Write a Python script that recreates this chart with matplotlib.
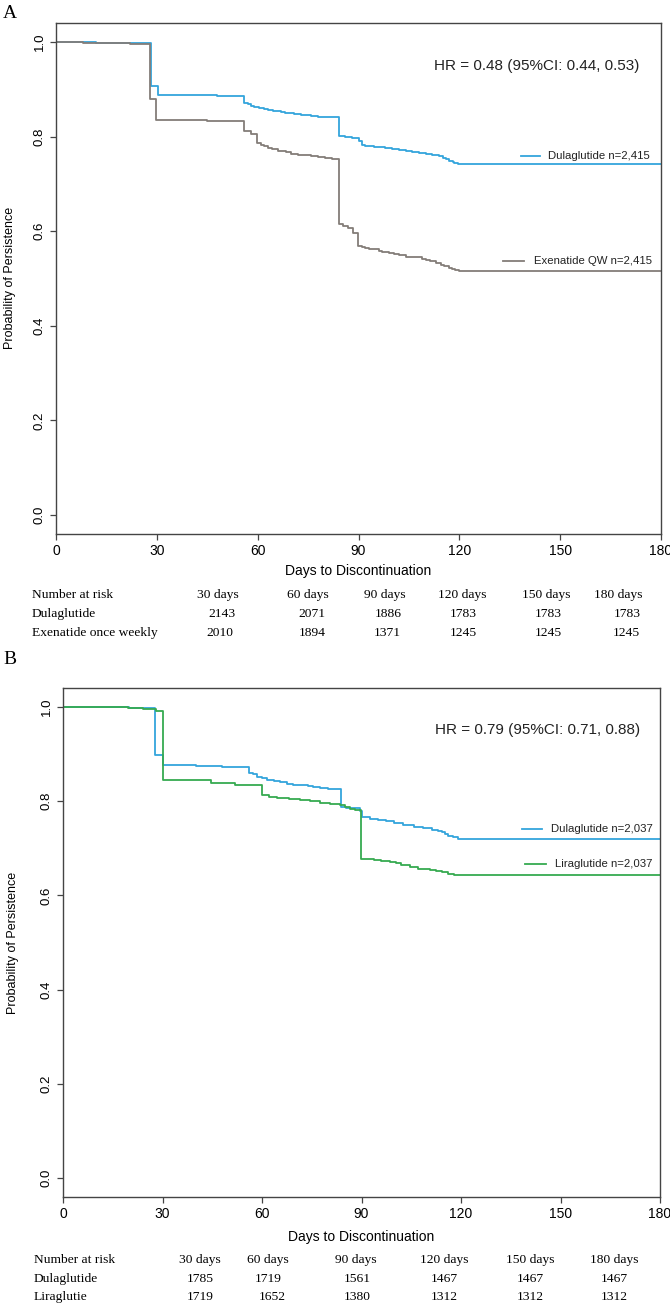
import matplotlib
matplotlib.use("Agg")
import matplotlib.pyplot as plt

# ---- data ----
# Panel A: dulaglutide vs exenatide QW
a_dula_days = [0, 5, 12, 20, 28.4, 30.3, 40, 48, 56, 57, 58, 59, 60.5, 62, 63, 64.5, 65.7, 67, 68, 69.5,
               70.8, 72, 73, 74.5, 76, 78, 81, 84.3, 86, 88, 90, 91, 92, 93, 94.5, 96, 98, 100, 102, 104,
               106, 108, 110, 111, 112, 113, 114, 115, 116, 117, 118, 118.5, 119.5, 180]
a_dula_surv = [1.0, 0.999, 0.998, 0.997, 0.907, 0.888, 0.887, 0.886, 0.871, 0.868, 0.865, 0.862, 0.860,
               0.858, 0.856, 0.854, 0.853, 0.851, 0.850, 0.849, 0.848, 0.847, 0.846, 0.845, 0.844, 0.842,
               0.841, 0.802, 0.799, 0.797, 0.790, 0.783, 0.781, 0.780, 0.778, 0.777, 0.775, 0.773, 0.771,
               0.769, 0.767, 0.766, 0.764, 0.763, 0.761, 0.760, 0.758, 0.755, 0.752, 0.748, 0.746, 0.744,
               0.741, 0.741]

a_exen_days = [0, 8, 15, 22, 28.1, 29.9, 45, 56, 58, 59.8, 61, 61.8, 63, 64.4, 66, 68.3, 70, 72, 74, 76,
               78, 80, 82, 84.1, 85.3, 87, 88.5, 89.8, 91, 92, 93, 94.4, 96, 97, 99, 100.5, 102, 104, 109,
               110, 111.4, 113, 114.4, 115.5, 116.8, 117.7, 118.6, 120, 180]
a_exen_surv = [1.0, 0.998, 0.997, 0.995, 0.879, 0.834, 0.832, 0.811, 0.806, 0.786, 0.782, 0.779, 0.776,
               0.774, 0.770, 0.767, 0.764, 0.762, 0.760, 0.759, 0.757, 0.755, 0.753, 0.615, 0.611, 0.606,
               0.596, 0.568, 0.566, 0.565, 0.563, 0.562, 0.559, 0.557, 0.554, 0.552, 0.549, 0.545, 0.541,
               0.539, 0.536, 0.532, 0.529, 0.526, 0.523, 0.520, 0.518, 0.516, 0.516]

# Panel B: dulaglutide vs liraglutide
b_dula_days = [0, 10, 20, 27.8, 30, 40, 48, 56.1, 57.4, 58.5, 59.9, 61.4, 63.5, 65.4, 67.5, 69.4, 71.5,
               73.9, 75.5, 77.5, 80, 83.7, 85.3, 89.5, 90, 92.5, 95, 97.5, 99.8, 102.5, 105.9, 108.5, 111.4,
               113, 114.4, 115.3, 116.2, 117.5, 119.2, 180]
b_dula_surv = [1.0, 0.999, 0.998, 0.897, 0.876, 0.875, 0.873, 0.860, 0.857, 0.852, 0.848, 0.845, 0.842,
               0.840, 0.837, 0.835, 0.834, 0.832, 0.830, 0.827, 0.826, 0.787, 0.785, 0.780, 0.767, 0.763,
               0.760, 0.757, 0.753, 0.749, 0.745, 0.742, 0.739, 0.737, 0.734, 0.731, 0.727, 0.724, 0.720,
               0.720]

b_lira_days = [0, 10, 19.7, 24, 28, 30, 44.5, 52, 59.9, 62, 64.4, 68, 71.4, 74.5, 77.5, 80.5, 83.5, 85,
               86.5, 88, 89.8, 93.7, 96, 98.6, 100.5, 102, 104.5, 107, 110.7, 112.5, 114.4, 116, 118, 119.2,
               180]
b_lira_surv = [1.0, 0.999, 0.997, 0.995, 0.992, 0.844, 0.839, 0.835, 0.813, 0.809, 0.806, 0.805, 0.803,
               0.800, 0.797, 0.794, 0.791, 0.788, 0.784, 0.781, 0.677, 0.675, 0.673, 0.670, 0.668, 0.665,
               0.660, 0.656, 0.654, 0.651, 0.649, 0.646, 0.644, 0.643, 0.643]

x_ticks = [0, 30, 60, 90, 120, 150, 180]
y_ticks = [0.0, 0.2, 0.4, 0.6, 0.8, 1.0]

risk_cols = ["30 days", "60 days", "90 days", "120 days", "150 days", "180 days"]
a_risk_labels = ["Dulaglutide", "Exenatide once weekly"]
a_risk_dula = [2143, 2071, 1886, 1783, 1783, 1783]
a_risk_exen = [2010, 1894, 1371, 1245, 1245, 1245]
b_risk_labels = ["Dulaglutide", "Liraglutie"]
b_risk_dula = [1785, 1719, 1561, 1467, 1467, 1467]
b_risk_lira = [1719, 1652, 1380, 1312, 1312, 1312]

a_hr = "HR = 0.48 (95%CI: 0.44, 0.53)"
b_hr = "HR = 0.79 (95%CI: 0.71, 0.88)"

BLUE = "#34A5DC"
GRAY = "#837D78"
GREEN = "#36AA50"

W, H = 670, 1305
SANS = ["Liberation Sans", "DejaVu Sans"]
SERIF = ["Liberation Serif", "DejaVu Serif"]

fig = plt.figure(figsize=(W / 100, H / 100), dpi=100)


def px_rect(l, t, r, b):
    return [l / W, 1 - b / H, (r - l) / W, (b - t) / H]


def fx(x):
    return x / W


def fy(y):
    return 1 - y / H


def km_panel(box, curves, hr_text, legend):
    ax = fig.add_axes(px_rect(*box))
    for days, surv, col in curves:
        ax.step(days, surv, where="post", color=col, lw=1.3)
    ax.set_xlim(0, 180)
    ax.set_ylim(-0.04, 1.04)
    ax.set_xticks(x_ticks)
    ax.set_yticks(y_ticks)
    ax.set_xticklabels([str(t) for t in x_ticks], family=SANS, fontsize=10)
    ax.set_yticklabels(["%.1f" % t for t in y_ticks], family=SANS, fontsize=9.5,
                       rotation=90, va="center")
    ax.tick_params(direction="out", length=4.3, width=0.9, color="#444444", pad=3)
    for s in ax.spines.values():
        s.set_color("#444444")
        s.set_linewidth(1.0)
    ax.text(143.1, 0.95, hr_text, ha="center", va="center", fontsize=11, family=SANS, color="#222222")
    for (x0, x1, xt, y, col, lab) in legend:
        ax.plot([x0, x1], [y, y], color=col, lw=1.3)
        ax.text(xt, y, lab, ha="left", va="center", fontsize=8.2, family=SANS, color="#222222")
    return ax


def risk_table(left_x, rows_y, head_x, num_x, labels, values):
    fig.text(fx(left_x), fy(rows_y[0]), "Number at risk", family=SERIF, fontsize=9.7, va="center")
    for hx, lab in zip(head_x, risk_cols):
        fig.text(fx(hx), fy(rows_y[0]), lab, family=SERIF, fontsize=9.7, ha="center", va="center")
    for row, (lab, vals) in enumerate(zip(labels, values)):
        yy = fy(rows_y[row + 1])
        fig.text(fx(left_x), yy, lab, family=SERIF, fontsize=9.7, va="center")
        for nx, v in zip(num_x[row], vals):
            fig.text(fx(nx), yy, str(v), family=SERIF, fontsize=9.7, ha="center", va="center")


# ---- Panel A ----
km_panel((56, 23, 661, 534),
         [(a_dula_days, a_dula_surv, BLUE), (a_exen_days, a_exen_surv, GRAY)],
         a_hr,
         [(138.3, 144.1, 146.5, 0.759, BLUE, "Dulaglutide n=2,415"),
          (133.0, 139.3, 142.2, 0.537, GRAY, "Exenatide QW n=2,415")])
fig.text(fx(10), fy(14), "A", family=SERIF, fontsize=14, ha="center", va="center")
fig.text(fx(10), fy(277.5), "Probability of Persistence", family=SANS, fontsize=9,
         rotation=90, ha="center", va="center")
fig.text(fx(358.5), fy(571.5), "Days to Discontinuation", family=SANS, fontsize=10,
         ha="center", va="center")
risk_table(32, [595, 614, 633],
           [218, 308, 385, 462, 546, 618],
           [[222, 312, 388, 463, 548, 627], [220, 312, 387, 463, 548, 626]],
           a_risk_labels, [a_risk_dula, a_risk_exen])

# ---- Panel B ----
km_panel((63, 688, 660, 1197),
         [(b_dula_days, b_dula_surv, BLUE), (b_lira_days, b_lira_surv, GREEN)],
         b_hr,
         [(138.3, 144.3, 147.1, 0.741, BLUE, "Dulaglutide n=2,037"),
          (139.4, 145.5, 148.3, 0.666, GREEN, "Liraglutide n=2,037")])
fig.text(fx(10), fy(659), "B", family=SERIF, fontsize=14, ha="center", va="center")
fig.text(fx(13), fy(943), "Probability of Persistence", family=SANS, fontsize=9,
         rotation=90, ha="center", va="center")
fig.text(fx(361), fy(1237.5), "Days to Discontinuation", family=SANS, fontsize=10,
         ha="center", va="center")
risk_table(34, [1260, 1279, 1297.3],
           [200, 268, 356, 444, 530, 614.5],
           [[200, 268, 357, 444, 530, 614.5], [200, 272.6, 357, 444, 530, 614.5]],
           b_risk_labels, [b_risk_dula, b_risk_lira])

fig.savefig("out.png", dpi=100)
